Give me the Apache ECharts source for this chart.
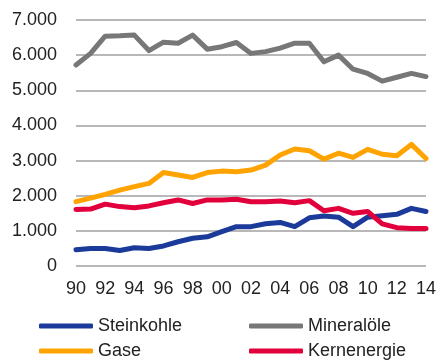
<!DOCTYPE html>
<html>
<head>
<meta charset="utf-8">
<script src="https://cdn.jsdelivr.net/npm/echarts@6/dist/echarts.min.js"></script>
<style>
  html, body { margin: 0; padding: 0; background: #fff; }
  #chart { width: 439px; height: 360px; }
</style>
</head>
<body>
<div id="chart"></div>
<script>
// Primärenergieverbrauch nach Energieträgern, 1990–2014
const years = ['90','91','92','93','94','95','96','97','98','99','00','01','02','03','04','05','06','07','08','09','10','11','12','13','14'];
const steinkohle = [460,500,500,440,520,500,570,690,790,830,980,1120,1120,1200,1240,1120,1370,1420,1390,1120,1390,1430,1470,1640,1550];
const mineraloele = [5720,6050,6540,6550,6570,6130,6370,6340,6570,6170,6240,6360,6050,6100,6200,6340,6340,5810,6000,5600,5480,5260,5370,5480,5390];
const gase = [1830,1930,2040,2160,2260,2350,2660,2590,2520,2660,2700,2680,2730,2870,3160,3330,3280,3040,3210,3090,3320,3180,3140,3460,3060];
const kernenergie = [1610,1620,1760,1690,1660,1710,1800,1880,1780,1880,1880,1900,1830,1830,1850,1800,1860,1570,1640,1500,1550,1200,1090,1070,1070];
const xTicks = ['90','92','94','96','98','00','02','04','06','08','10','12','14'];

const colors = {
  steinkohle: '#1B3A9A',
  mineraloele: '#777777',
  gase: '#FFA300',
  kernenergie: '#E2003C'
};

const font = 'Liberation Sans, Arial, sans-serif';
const chart = echarts.init(document.getElementById('chart'), null, { renderer: 'canvas' });

function line(name, data, color) {
  return {
    name, type: 'line', data, symbol: 'none', smooth: false,
    lineStyle: { width: 5, color, cap: 'round', join: 'round' },
    itemStyle: { color }
  };
}

// one legend entry per component, laid out in two columns
function legendItem(name, left, top) {
  return {
    left, top,
    itemWidth: 54, itemHeight: 5, itemGap: 0,
    icon: 'roundRect',
    textStyle: { fontFamily: font, fontSize: 18, color: '#222', lineHeight: 20, padding: [0, 0, 0, 0] },
    data: [name]
  };
}

chart.setOption({
  animation: false,
  grid: { left: 76, right: 11, top: 20, bottom: 94 },
  xAxis: {
    type: 'category',
    data: years,
    boundaryGap: false,
    axisLine: { show: false },
    axisTick: { show: false },
    axisLabel: {
      interval: 0,
      margin: 14,
      fontFamily: font, fontSize: 18, color: '#222',
      formatter: v => (xTicks.includes(v) ? v : '')
    }
  },
  yAxis: {
    type: 'value',
    min: 0, max: 7000, interval: 1000,
    axisLine: { show: false },
    axisTick: { show: false },
    splitLine: { lineStyle: { color: '#A0A0A0', width: 1.5 } },
    axisLabel: {
      margin: 19,
      fontFamily: font, fontSize: 18, color: '#222',
      formatter: v => v === 0 ? '0' : String(v).replace(/(\d)(?=(\d{3})+$)/g, '$1.')
    }
  },
  legend: [
    legendItem('Steinkohle', 34, 311),
    legendItem('Gase', 34, 336),
    legendItem('Mineralöle', 244, 311),
    legendItem('Kernenergie', 244, 336)
  ],
  series: [
    line('Steinkohle', steinkohle, colors.steinkohle),
    line('Mineralöle', mineraloele, colors.mineraloele),
    line('Gase', gase, colors.gase),
    line('Kernenergie', kernenergie, colors.kernenergie)
  ]
});
</script>
</body>
</html>
